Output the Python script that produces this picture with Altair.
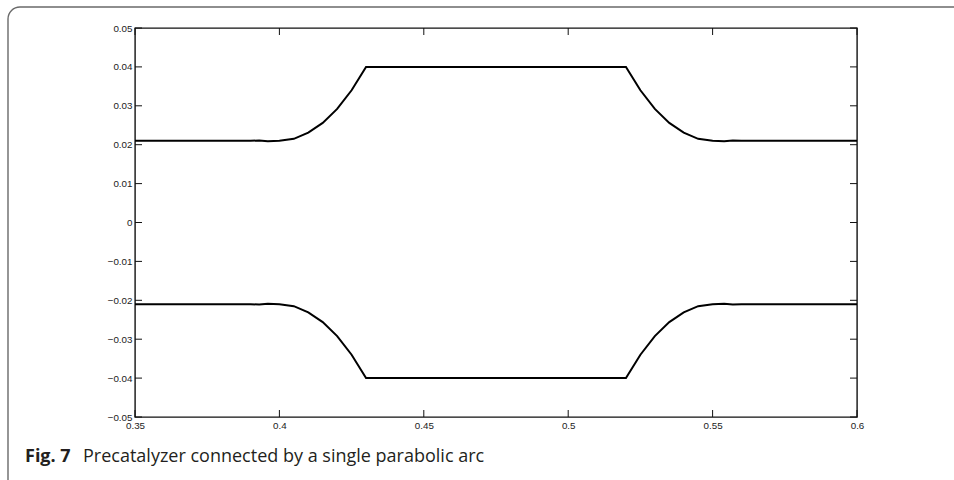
import altair as alt
import pandas as pd

# ---- data ----
upper_x = [0.35, 0.39, 0.393, 0.396, 0.40, 0.405, 0.41, 0.415, 0.42, 0.425, 0.43,
           0.52, 0.525, 0.53, 0.535, 0.54, 0.545, 0.55, 0.554, 0.557, 0.56, 0.60]
upper_y = [0.021, 0.021, 0.0211, 0.0209, 0.0210, 0.0215, 0.0231, 0.0256, 0.0292, 0.0340, 0.0400,
           0.0400, 0.0340, 0.0292, 0.0256, 0.0231, 0.0215, 0.0210, 0.0209, 0.0211, 0.021, 0.021]
lower_x = upper_x
lower_y = [-0.021, -0.021, -0.0211, -0.0209, -0.0210, -0.0215, -0.0231, -0.0256, -0.0292, -0.0340, -0.0400,
           -0.0400, -0.0340, -0.0292, -0.0256, -0.0231, -0.0215, -0.0210, -0.0209, -0.0211, -0.021, -0.021]

x_ticks = [0.35, 0.4, 0.45, 0.5, 0.55, 0.6]
y_ticks = [-0.05, -0.04, -0.03, -0.02, -0.01, 0, 0.01, 0.02, 0.03, 0.04, 0.05]
caption_bold = ["Fig. 7"]
caption_text = ["Precatalyzer connected by a single parabolic arc"]

W, H = 722, 389
TICK = 7

df = pd.DataFrame({
    "x": upper_x + lower_x,
    "y": upper_y + lower_y,
    "s": ["upper"] * len(upper_x) + ["lower"] * len(lower_x),
})
xt = pd.DataFrame({"x": x_ticks})
yt = pd.DataFrame({"y": y_ticks})

xs = alt.Scale(domain=[0.35, 0.6], nice=False, zero=False)
ys = alt.Scale(domain=[-0.05, 0.05], nice=False, zero=False)

lab = dict(labelFont="Liberation Sans", labelFontSize=9.8, labelColor="#222",
           ticks=False, domain=False, grid=False, title=None, format="~g",
           labelFlush=False, labelOverlap=False)
x_axis = alt.Axis(values=x_ticks, labelPadding=3, **lab)
y_axis = alt.Axis(values=y_ticks, labelPadding=3, **lab)

X = alt.X("x:Q", scale=xs, axis=x_axis)
Y = alt.Y("y:Q", scale=ys, axis=y_axis)

lines = alt.Chart(df).mark_line(color="black", strokeWidth=2).encode(
    x=X, y=Y, detail="s:N",
)

tick_style = dict(color="#111", strokeWidth=1)
yl = alt.Chart(yt).mark_rule(**tick_style).encode(y=Y, x=alt.value(0), x2=alt.value(TICK))
yr = alt.Chart(yt).mark_rule(**tick_style).encode(y=Y, x=alt.value(W - TICK), x2=alt.value(W))
xb = alt.Chart(xt).mark_rule(**tick_style).encode(x=X, y=alt.value(H - TICK), y2=alt.value(H))
xtp = alt.Chart(xt).mark_rule(**tick_style).encode(x=X, y=alt.value(0), y2=alt.value(TICK))

frame = alt.Chart(pd.DataFrame({"a": [0]})).mark_rect(
    cornerRadius=12, fillOpacity=0, stroke="#6a6a6a", strokeWidth=1.4
).encode(x=alt.value(-127), y=alt.value(-21), x2=alt.value(1300), y2=alt.value(900))

cap1 = alt.Chart(pd.DataFrame({"t": caption_bold})).mark_text(
    align="left", baseline="alphabetic", font="Open Sans", fontSize=18,
    fontWeight="bold", color="#231f20"
).encode(text="t:N", x=alt.value(25 - 135), y=alt.value(462 - 28))

cap2 = alt.Chart(pd.DataFrame({"t": caption_text})).mark_text(
    align="left", baseline="alphabetic", font="Open Sans", fontSize=18,
    color="#231f20"
).encode(text="t:N", x=alt.value(83 - 135), y=alt.value(462 - 28))

chart = alt.layer(frame, lines, yl, yr, xb, xtp, cap1, cap2).properties(
    width=W, height=H,
    autosize=alt.AutoSizeParams(type="none"),
    padding={"left": 135, "top": 28, "right": 954 - 135 - W, "bottom": 480 - 28 - H},
).configure_view(stroke="#111", strokeWidth=1.4)

chart.save("out.html", embed_options={"renderer": "svg", "actions": False})
